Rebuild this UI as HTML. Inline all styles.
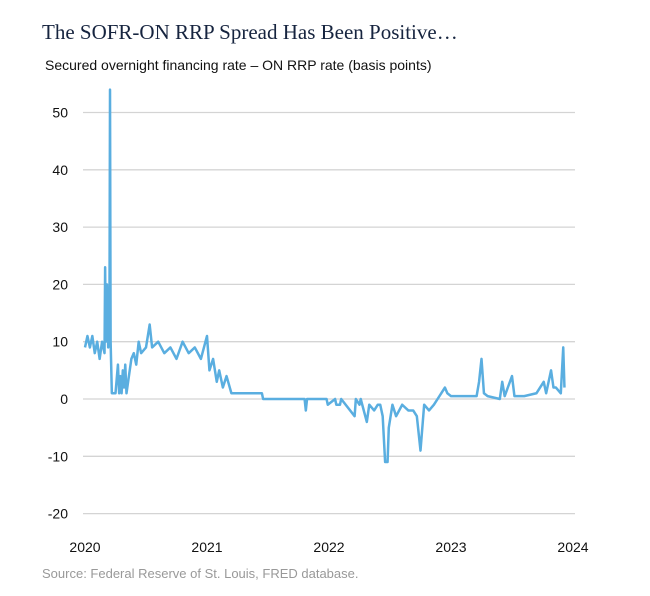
<!DOCTYPE html>
<html><head><meta charset="utf-8"><style>
body{margin:0;background:#fff;width:650px;height:596px;overflow:hidden;position:relative;font-family:"Liberation Sans",sans-serif}
#title{position:absolute;left:42px;top:20px;font-family:"Liberation Serif",serif;font-size:21px;color:#16243f}
#sub{position:absolute;left:45px;top:57px;font-size:14px;color:#111}
#src{position:absolute;left:42px;top:566px;font-size:13px;color:#999}
svg{position:absolute;left:0;top:0}
</style></head><body>
<div id="title">The SOFR-ON RRP Spread Has Been Positive…</div>
<div id="sub">Secured overnight financing rate – ON RRP rate (basis points)</div>
<div id="src">Source: Federal Reserve of St. Louis, FRED database.</div>
<svg id="c" width="650" height="596"></svg>
<script>
const yTicks=[50,40,30,20,10,0,-10,-20];
const xTicks=[2020,2021,2022,2023,2024];
const times=[0,0.02,0.04,0.06,0.08,0.1,0.12,0.14,0.16,0.165,0.17,0.18,0.19,0.2,0.205,0.21,0.22,0.25,0.27,0.28,0.29,0.3,0.31,0.32,0.33,0.34,0.36,0.38,0.4,0.42,0.44,0.46,0.5,0.53,0.55,0.6,0.65,0.7,0.75,0.8,0.85,0.9,0.95,1.0,1.02,1.05,1.08,1.1,1.13,1.16,1.2,1.45,1.46,1.8,1.81,1.82,1.98,1.99,2.05,2.06,2.09,2.1,2.21,2.22,2.25,2.26,2.31,2.33,2.37,2.4,2.42,2.44,2.46,2.48,2.49,2.52,2.55,2.6,2.65,2.69,2.72,2.75,2.78,2.82,2.86,2.89,2.92,2.95,2.97,3.0,3.1,3.21,3.23,3.25,3.27,3.3,3.4,3.42,3.44,3.5,3.52,3.6,3.7,3.76,3.78,3.82,3.84,3.86,3.9,3.92,3.93,3.95];
const values=[9,11,9,11,8,10,7,10,8,23,10,20,9,10,54,10,1,1,6,1,4,1,5,2,6,1,4,7,8,6,10,8,9,13,9,10,8,9,7,10,8,9,7,11,5,7,3,5,2,4,1,1,0,0,-2,0,0,-1,0,-1,-1,0,-3,0,-1,0,-4,-1,-2,-1,-1,-3,-11,-11,-5,-1,-3,-1,-2,-2,-3,-9,-1,-2,-1,0,1,2,1,0.5,0.5,0.5,3,7,1,0.5,0,3,0.5,4,0.5,0.5,1,3,1,5,2,2,1,9,2];
const svg=document.getElementById('c'),NS='http://www.w3.org/2000/svg';
const X=t=>85+(t-2020)*122, Y=v=>399-v*5.73;
function mk(tag,a){const e=document.createElementNS(NS,tag);for(const k in a)e.setAttribute(k,a[k]);svg.appendChild(e);return e;}
yTicks.forEach(v=>{
 const g=mk('line',{x1:83,x2:575,y1:Y(v),y2:Y(v),stroke:'#d4d4d4','stroke-width':1.3});
 
 
 const t=mk('text',{x:68,y:Y(v)+5,'text-anchor':'end','font-size':14,fill:'#111','font-family':'Liberation Sans,sans-serif'});t.textContent=v;
 
 
});
xTicks.forEach(y=>{
 const t=mk('text',{x:X(y),y:552,'text-anchor':'middle','font-size':14,fill:'#111','font-family':'Liberation Sans,sans-serif'});t.textContent=y;
 
 
});
const p=mk('polyline',{points:times.map((t,i)=>X(2020+t)+','+Y(values[i])).join(' '),fill:'none',stroke:'#5aaee0','stroke-width':2.5,'stroke-linejoin':'round'});


</script>
</body></html>
